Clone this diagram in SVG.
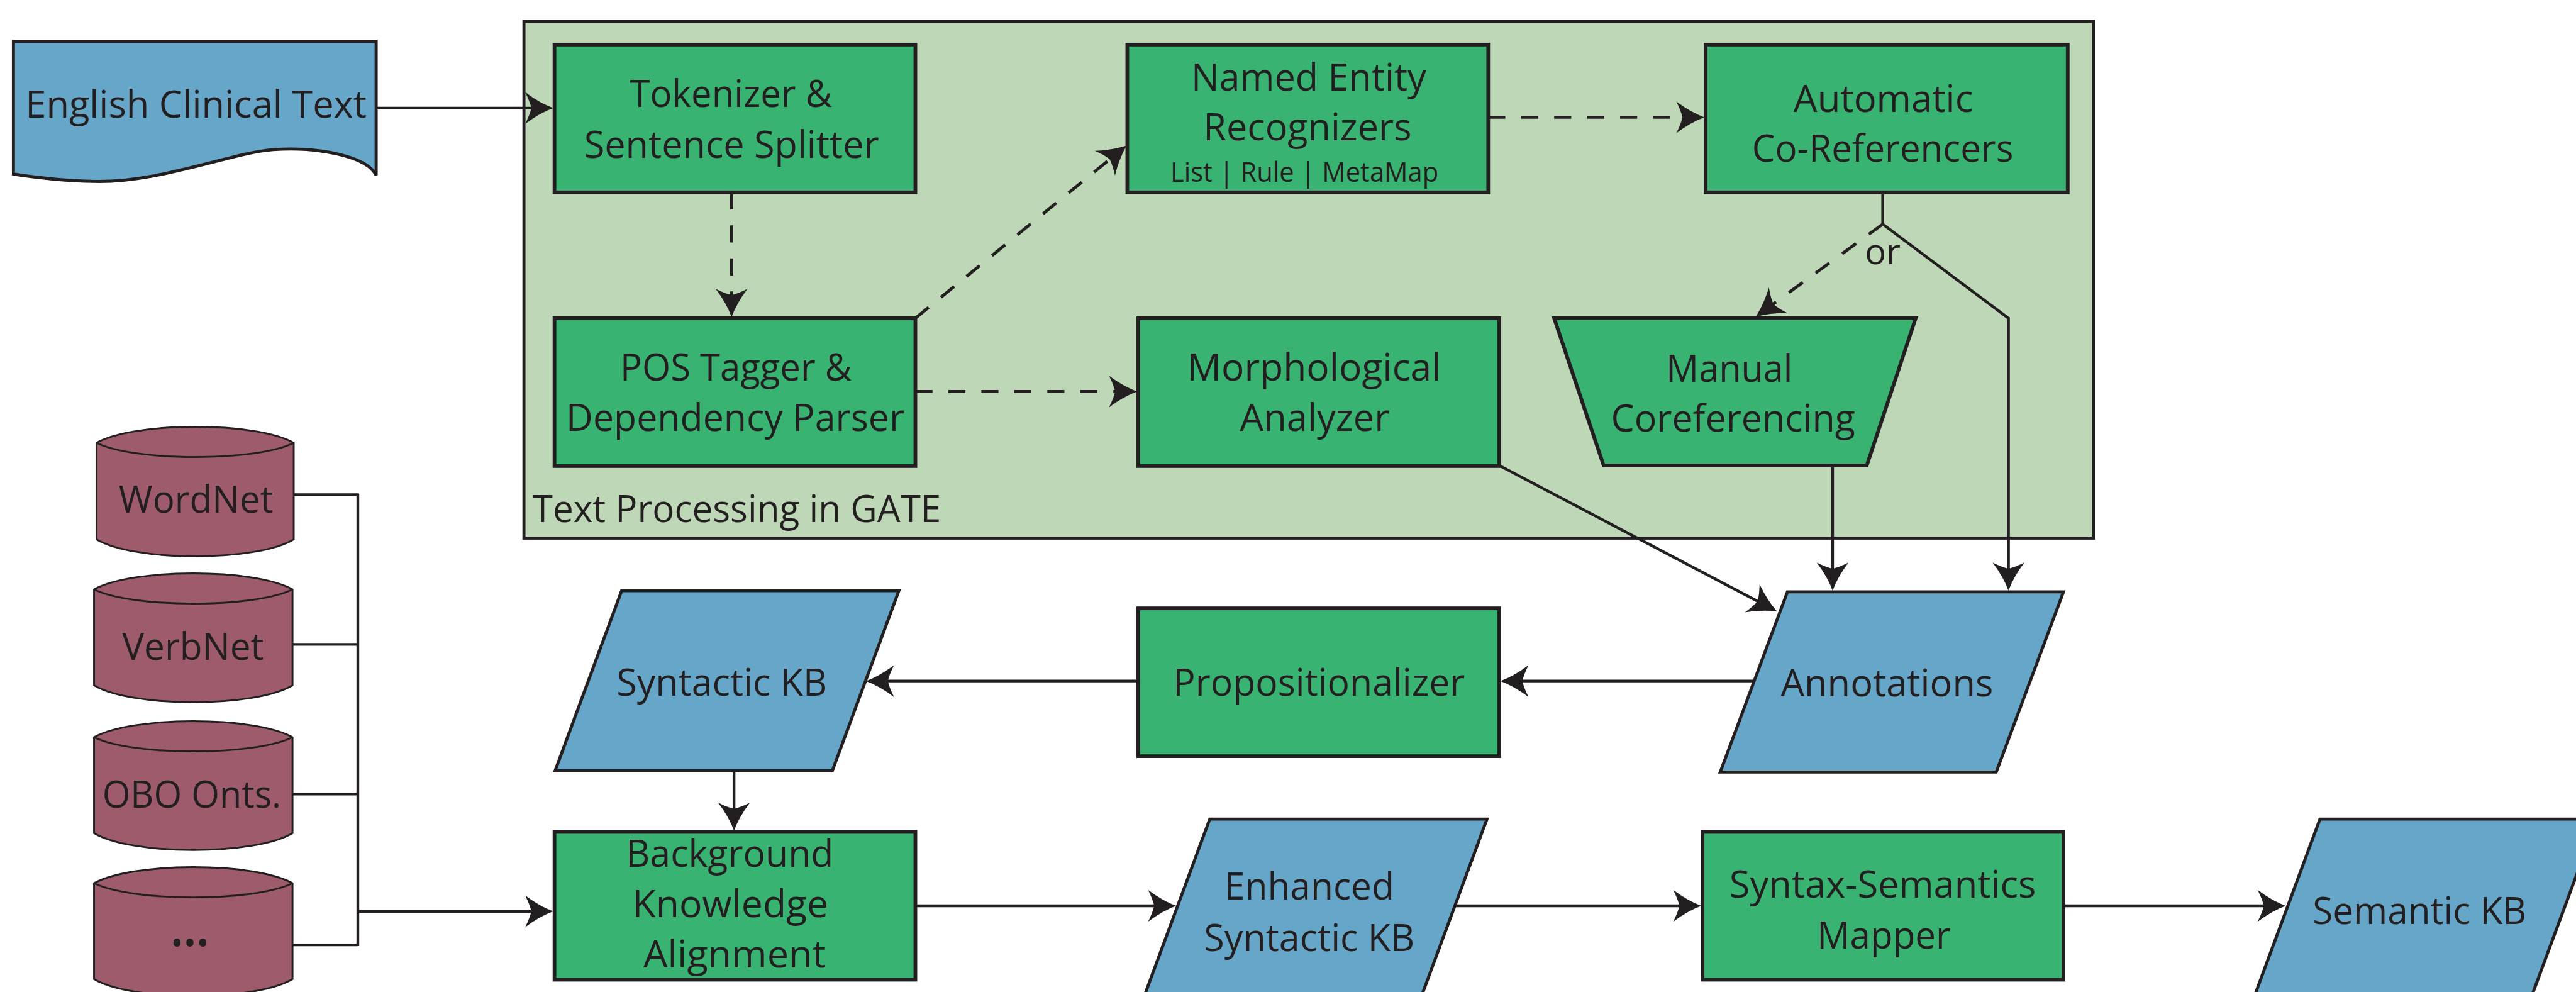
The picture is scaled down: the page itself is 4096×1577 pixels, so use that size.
<svg xmlns="http://www.w3.org/2000/svg" width="4096" height="1577" viewBox="0 0 4096 1577">
<defs>
<style>
.t{font-family:"Open Sans","Liberation Sans",Arial,sans-serif;font-size:62px;fill:#231F20;text-anchor:middle}
.s{font-size:46px}
.box{fill:#39B371;stroke:#231F20;stroke-width:6}
.data{fill:#66A6C9;stroke:#231F20;stroke-width:5}
.db{fill:#9D5B6C;stroke:#231F20;stroke-width:3}
.ln{fill:none;stroke:#231F20;stroke-width:4.5}
.dash{fill:none;stroke:#231F20;stroke-width:5;stroke-dasharray:28 26}
</style>
<marker id="ah" markerUnits="userSpaceOnUse" viewBox="-50 -30 54 60" refX="-20" refY="0" markerWidth="54" markerHeight="60" orient="auto" overflow="visible">
<path d="M0,0 Q-22,-8 -46,-26 Q-38,-10 -36,0 Q-38,10 -46,26 Q-22,8 0,0 Z" fill="#231F20"/>
</marker>
</defs>
<rect width="4096" height="1577" fill="#ffffff"/>
<g transform="scale(0.971)">
<g id="gate">
<rect x="858" y="35" width="2570" height="846" fill="#BED8B7" stroke="#231F20" stroke-width="5"/>
<text class="t" x="872" y="855" textLength="669" lengthAdjust="spacingAndGlyphs" style="text-anchor:start">Text Processing in GATE</text>
</g>
<g id="english-clinical-text">
<path class="data" d="M22,68 H616 V287 C600,255 520,240 447,245 C380,250 260,300 153,297 C100,296 55,290 22,285 Z"/>
<text class="t" x="321" y="193" textLength="559" lengthAdjust="spacingAndGlyphs">English Clinical Text</text>
</g>
<g id="tokenizer">
<rect class="box" x="908" y="73" width="591" height="242"/>
<text class="t" x="1197" y="175" textLength="331" lengthAdjust="spacingAndGlyphs">Tokenizer &amp;</text>
<text class="t" x="1198" y="258" textLength="483" lengthAdjust="spacingAndGlyphs">Sentence Splitter</text>
</g>
<g id="ner">
<rect class="box" x="1846" y="73" width="591" height="242"/>
<text class="t" x="2143" y="148" textLength="385" lengthAdjust="spacingAndGlyphs">Named Entity</text>
<text class="t" x="2141" y="230" textLength="341" lengthAdjust="spacingAndGlyphs">Recognizers</text>
<text class="t s" x="2136" y="298" textLength="439" lengthAdjust="spacingAndGlyphs">List | Rule | MetaMap</text>
</g>
<g id="auto-coref">
<rect class="box" x="2793" y="73" width="593" height="242"/>
<text class="t" x="3084" y="183" textLength="294" lengthAdjust="spacingAndGlyphs">Automatic</text>
<text class="t" x="3083" y="265" textLength="428" lengthAdjust="spacingAndGlyphs">Co-Referencers</text>
</g>
<g id="pos">
<rect class="box" x="908" y="521" width="591" height="242"/>
<text class="t" x="1205" y="623" textLength="379" lengthAdjust="spacingAndGlyphs">POS Tagger &amp;</text>
<text class="t" x="1204" y="705" textLength="554" lengthAdjust="spacingAndGlyphs">Dependency Parser</text>
</g>
<g id="morph">
<rect class="box" x="1864" y="521" width="591" height="242"/>
<text class="t" x="2152" y="623" textLength="416" lengthAdjust="spacingAndGlyphs">Morphological</text>
<text class="t" x="2153" y="705" textLength="245" lengthAdjust="spacingAndGlyphs">Analyzer</text>
</g>
<g id="manual-coref">
<path class="box" d="M2545,521 H3137 L3057,762 H2626 Z"/>
<text class="t" x="2832" y="625" textLength="207" lengthAdjust="spacingAndGlyphs">Manual</text>
<text class="t" x="2838" y="706" textLength="400" lengthAdjust="spacingAndGlyphs">Coreferencing</text>
</g>
<g id="wordnet">
<path class="db" d="M158,725 C220,690 420,690 481,725 V883 C420,920 220,920 158,883 Z"/>
<path class="db" fill="none" d="M158,725 C220,756 420,756 481,725"/>
<text class="t" x="321" y="839" textLength="253" lengthAdjust="spacingAndGlyphs">WordNet</text>
</g>
<g id="verbnet">
<path class="db" d="M154,965 C216,930 417,930 479,965 V1122 C417,1159 216,1159 154,1122 Z"/>
<path class="db" fill="none" d="M154,965 C216,996 417,996 479,965"/>
<text class="t" x="316" y="1080" textLength="232" lengthAdjust="spacingAndGlyphs">VerbNet</text>
</g>
<g id="obo">
<path class="db" d="M154,1207 C216,1172 417,1172 479,1207 V1364 C417,1401 216,1401 154,1364 Z"/>
<path class="db" fill="none" d="M154,1207 C216,1238 417,1238 479,1207"/>
<text class="t" x="314" y="1322" textLength="293" lengthAdjust="spacingAndGlyphs">OBO Onts.</text>
</g>
<g id="more-kbs">
<path class="db" d="M154,1446 C216,1411 417,1411 479,1446 V1603 C417,1640 216,1640 154,1603 Z"/>
<path class="db" fill="none" d="M154,1446 C216,1477 417,1477 479,1446"/>
<text class="t" x="311" y="1564" style="font-size:56px">•••</text>
</g>
<g id="syntactic-kb">
<path class="data" d="M1018,967 H1472 L1363,1262 H909 Z"/>
<text class="t" x="1182" y="1139" textLength="345" lengthAdjust="spacingAndGlyphs">Syntactic KB</text>
</g>
<g id="propositionalizer">
<rect class="box" x="1864" y="996" width="591" height="242"/>
<text class="t" x="2160" y="1139" textLength="478" lengthAdjust="spacingAndGlyphs">Propositionalizer</text>
</g>
<g id="annotations">
<path class="data" d="M2927,969 H3379 L3269,1264 H2817 Z"/>
<text class="t" x="3090" y="1140" textLength="348" lengthAdjust="spacingAndGlyphs">Annotations</text>
</g>
<g id="bka">
<rect class="box" x="908" y="1362" width="591" height="242"/>
<text class="t" x="1195" y="1419" textLength="340" lengthAdjust="spacingAndGlyphs">Background</text>
<text class="t" x="1196" y="1502" textLength="321" lengthAdjust="spacingAndGlyphs">Knowledge</text>
<text class="t" x="1203" y="1584" textLength="299" lengthAdjust="spacingAndGlyphs">Alignment</text>
</g>
<g id="enhanced-kb">
<path class="data" d="M1981,1341 H2435 L2320,1652 H1866 Z"/>
<text class="t" x="2144" y="1473" textLength="278" lengthAdjust="spacingAndGlyphs">Enhanced</text>
<text class="t" x="2144" y="1557" textLength="345" lengthAdjust="spacingAndGlyphs">Syntactic KB</text>
</g>
<g id="mapper">
<rect class="box" x="2788" y="1362" width="591" height="242"/>
<text class="t" x="3083" y="1470" textLength="502" lengthAdjust="spacingAndGlyphs">Syntax-Semantics</text>
<text class="t" x="3085" y="1553" textLength="219" lengthAdjust="spacingAndGlyphs">Mapper</text>
</g>
<g id="semantic-kb">
<path class="data" d="M3799,1341 H4253 L4138,1652 H3684 Z"/>
<text class="t" x="3962" y="1513" textLength="350" lengthAdjust="spacingAndGlyphs">Semantic KB</text>
</g>
<g id="connectors">
<path class="ln" d="M616,177 H886" marker-end="url(#ah)"/>
<path class="dash" d="M1198,315 V499" marker-end="url(#ah)"/>
<path class="dash" d="M1499,521 L1829.5,250.7" marker-end="url(#ah)"/>
<path class="dash" d="M1499,641 H1842" marker-end="url(#ah)"/>
<path class="dash" d="M2437,192 H2771" marker-end="url(#ah)"/>
<path class="ln" d="M3083,315 V367"/>
<path class="dash" d="M3083,367 L2891,507" marker-end="url(#ah)"/>
<path class="ln" d="M3083,367 L3289,521 V947" marker-end="url(#ah)"/>
<path class="ln" d="M3001,762 V947" marker-end="url(#ah)"/>
<path class="ln" d="M2455,762 L2892.3,991.7" marker-end="url(#ah)"/>
<path class="ln" d="M2871,1115 H2477" marker-end="url(#ah)"/>
<path class="ln" d="M1864,1115 H1438" marker-end="url(#ah)"/>
<path class="ln" d="M1202,1262 V1340" marker-end="url(#ah)"/>
<path class="ln" d="M481,810 H586 M479,1055 H586 M479,1300 H586 M479,1547 H586 M586,808 V1549"/>
<path class="ln" d="M586,1492 H886" marker-end="url(#ah)"/>
<path class="ln" d="M1499,1483 H1906" marker-end="url(#ah)"/>
<path class="ln" d="M2382,1483 H2766" marker-end="url(#ah)"/>
<path class="ln" d="M3379,1483 H3723" marker-end="url(#ah)"/>
<text class="t" x="3083" y="433" style="font-size:58px">or</text>
</g>
</g>
</svg>
